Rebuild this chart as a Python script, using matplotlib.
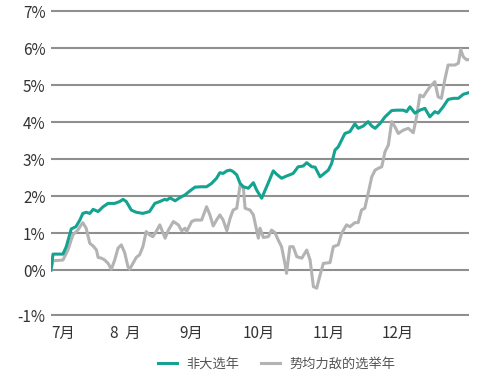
import matplotlib
matplotlib.use("Agg")
import matplotlib.pyplot as plt

plt.rcParams['font.family'] = ['Noto Sans CJK SC', 'DejaVu Sans']

# trading day index (Jul..Dec) and cumulative return in %
green_days = [0, 0.6, 3.6, 4.6, 6.1, 7.5, 8.7, 9.6, 10.6, 11.7, 12.7, 14.2, 15.7, 17.2,
              19.2, 20.7, 21.7, 22.7, 24.2, 25.7, 27.7, 29.7, 31.3, 32.8, 34.3, 34.9,
              35.9, 37.4, 38.9, 40.4, 41.9, 43.4, 45.4, 46.9, 48.4, 49.9, 50.9, 51.9,
              53.0, 54.0, 54.9, 56.0, 57.0, 58.0, 59.5, 61.0, 62.0, 63.5, 65.0, 67.0,
              68.0, 69.5, 71.0, 73.0, 74.5, 76.0, 77.1, 78.6, 79.6, 81.1, 82.1, 83.6,
              84.6, 85.6, 86.6, 87.6, 88.6, 90.1, 91.6, 92.6, 94.1, 95.6, 96.7, 97.7,
              99.2, 100.7, 102.7, 104.2, 106.2, 107.2, 108.2, 109.7, 111.2, 112.7,
              114.2, 115.7, 116.7, 118.2, 119.7, 121.3, 122.8, 124.3, 125.8]
green_vals = [0.0, 0.43, 0.43, 0.63, 1.11, 1.17, 1.35, 1.53, 1.56, 1.53, 1.64, 1.58, 1.71,
              1.80, 1.80, 1.85, 1.91, 1.85, 1.62, 1.56, 1.53, 1.58, 1.80, 1.85, 1.91, 1.89,
              1.95, 1.87, 1.96, 2.03, 2.14, 2.24, 2.25, 2.25, 2.34, 2.48, 2.63, 2.61, 2.68,
              2.70, 2.66, 2.57, 2.34, 2.25, 2.21, 2.36, 2.16, 1.94, 2.25, 2.68, 2.59, 2.48,
              2.54, 2.61, 2.79, 2.81, 2.90, 2.79, 2.78, 2.52, 2.59, 2.70, 2.88, 3.24, 3.33,
              3.51, 3.69, 3.74, 3.95, 3.83, 3.89, 4.01, 3.89, 3.83, 3.96, 4.14, 4.31, 4.32,
              4.32, 4.28, 4.41, 4.24, 4.32, 4.37, 4.14, 4.28, 4.24, 4.41, 4.61, 4.64, 4.64,
              4.75, 4.79]

gray_days = [0, 0.6, 3.6, 5.1, 6.6, 8.1, 9.1, 9.6, 10.6, 11.7, 12.7, 13.7, 14.2, 15.2,
             16.2, 17.2, 18.2, 19.2, 20.2, 21.2, 22.2, 23.2, 23.7, 24.7, 25.7, 26.7, 27.7,
             28.7, 29.7, 30.7, 31.7, 32.8, 34.4, 35.4, 36.9, 38.4, 39.4, 40.4, 40.9, 42.4,
             43.4, 45.4, 46.9, 47.9, 48.9, 49.9, 50.9, 51.9, 53.0, 54.0, 54.9, 56.0, 57.0,
             58.0, 58.5, 60.0, 61.0, 62.5, 63.0, 64.0, 65.5, 66.5, 67.5, 68.5, 69.5, 70.5,
             71.0, 72.0, 73.0, 74.1, 75.6, 77.1, 78.1, 79.1, 80.1, 81.1, 82.1, 84.1, 85.1,
             86.6, 87.6, 89.1, 90.1, 91.6, 92.6, 93.6, 94.6, 95.6, 96.7, 97.7, 98.7, 99.7,
             100.7, 101.7, 102.7, 103.7, 104.7, 106.2, 107.7, 109.2, 110.2, 111.2, 112.2,
             113.2, 114.2, 115.7, 116.7, 117.7, 118.7, 119.7, 121.8, 122.8, 123.5, 124.3,
             125.3, 126.0]
gray_vals = [0.0, 0.25, 0.27, 0.54, 0.95, 1.08, 1.22, 1.28, 1.13, 0.72, 0.65, 0.54, 0.34,
             0.32, 0.27, 0.18, 0.02, 0.27, 0.59, 0.68, 0.47, 0.09, 0.02, 0.18, 0.34, 0.41,
             0.63, 1.04, 0.95, 0.90, 1.04, 1.22, 0.86, 1.08, 1.31, 1.22, 1.06, 1.13, 1.04,
             1.31, 1.35, 1.35, 1.71, 1.49, 1.19, 1.35, 1.49, 1.35, 1.06, 1.40, 1.62, 1.67,
             2.30, 2.21, 1.67, 1.62, 1.49, 0.86, 1.13, 0.88, 0.90, 1.08, 1.01, 0.81, 0.63,
             0.18, -0.09, 0.63, 0.63, 0.36, 0.32, 0.54, 0.27, -0.45, -0.49, -0.14, 0.18,
             0.20, 0.63, 0.68, 0.99, 1.22, 1.17, 1.28, 1.28, 1.62, 1.67, 2.07, 2.52, 2.70,
             2.75, 2.79, 3.20, 3.38, 4.01, 3.87, 3.69, 3.78, 3.83, 3.71, 4.14, 4.73, 4.68,
             4.82, 4.95, 5.09, 4.68, 4.64, 5.14, 5.54, 5.54, 5.59, 5.96, 5.76, 5.68, 5.69]

month_pos = [3.6, 22.3, 42.2, 62.7, 83.8, 104.6]
month_labels = ["7月", "8  月", "9月", "10月", "11月", "12月"]
ytick_pos = [-1.216, 0, 1, 2, 3, 4, 5, 6, 7]
ytick_labels = ["-1%", "0%", "1%", "2%", "3%", "4%", "5%", "6%", "7%"]

fig = plt.figure(figsize=(4.8, 3.84), dpi=100)
ax = fig.add_axes([0.10625, 0.1764, 0.8708, 0.8007])

ax.plot(gray_days, gray_vals, color="#b3b3b3", lw=2.2, label="势均力敌的选举年", zorder=3)
ax.plot(green_days, green_vals, color="#14a390", lw=2.2, label="非大选年", zorder=4)

ax.set_xlim(0, 126)
ax.set_ylim(-1.25, 7.06)
ax.set_yticks(ytick_pos)
ax.set_yticklabels(ytick_labels)
ax.set_xticks(month_pos)
ax.set_xticklabels(month_labels)
ax.tick_params(axis="both", length=0, labelsize=11, labelcolor="#333333")
ax.tick_params(axis="y", pad=4)
ax.tick_params(axis="x", pad=6)
ax.grid(axis="y", color="#8f8f8f", lw=1.5)
ax.set_axisbelow(True)
for s in ax.spines.values():
    s.set_visible(False)

h, l = ax.get_legend_handles_labels()
fig.legend(h[::-1], l[::-1], loc="center", bbox_to_anchor=(276.5 / 480, 1 - 364 / 384),
           ncol=2, frameon=False, fontsize=9.5, handlelength=1.45, handletextpad=0.7,
           columnspacing=1.6, labelcolor="#555555", borderpad=0, borderaxespad=0)

fig.savefig("out.png", dpi=100)
